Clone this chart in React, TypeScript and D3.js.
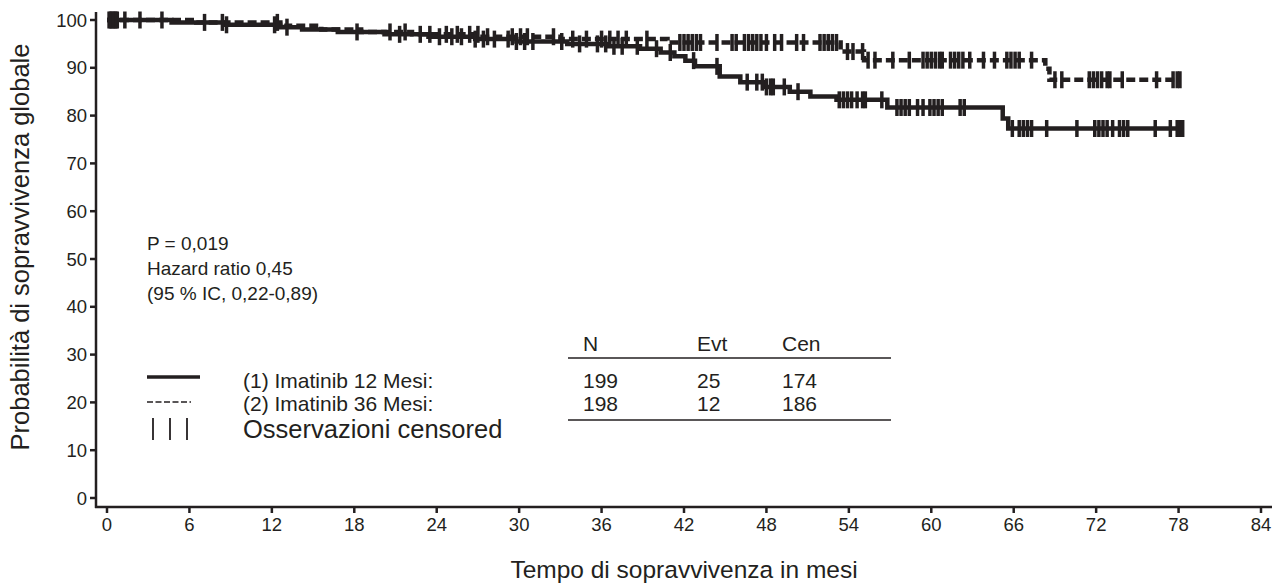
import React from "react";
import * as d3 from "d3";

// ---- data ----
const xTicks = [0, 6, 12, 18, 24, 30, 36, 42, 48, 54, 60, 66, 72, 78, 84];
const yTicks = [0, 10, 20, 30, 40, 50, 60, 70, 80, 90, 100];

// Kaplan-Meier steps [months, survival %]
const steps12: [number, number][] = [
  [0, 100], [4.7, 99.5], [8.5, 99], [12.6, 98.5], [14.2, 98], [16.8, 97.5], [20.2, 97],
  [23.4, 96.5], [26.8, 96], [29.8, 95.5], [33.5, 95], [36.4, 94.5], [38.8, 94],
  [40.3, 93.2], [41.3, 92.4], [42.1, 91.5], [42.8, 90.3], [44.6, 88.2], [46.1, 87.0],
  [47.8, 86.0], [49.7, 85.0], [51.2, 84.0], [53.1, 83.3], [56.8, 81.7], [65.2, 79.4], [65.6, 77.3],
];
const end12 = 78.3;
const steps36: [number, number][] = [
  [0, 100], [6.5, 99.5], [12.9, 98.8], [15.6, 98], [18.5, 97.5], [22.2, 97], [27.1, 96.5],
  [33, 96], [40.8, 95.3], [53.4, 93.4], [55.1, 91.6], [68.3, 89.8], [68.6, 87.5],
];
const end36 = 78.1;

const censor12 = [
  0.15, 0.35, 0.55, 0.75, 2.4, 7.1, 8.7, 12.2, 13.1, 18.2, 21.3, 22.8, 24.2, 25.1, 25.8, 26.8,
  27.4, 28.2, 29.2, 29.8, 30.4, 31.0, 33.1, 34.4, 35.7, 36.3, 36.9, 37.5, 38.6, 40.0, 41.0,
  42.7, 44.4, 46.6, 47.3, 47.7, 48.0, 48.3, 48.5, 49.3, 50.3, 53.3, 53.6, 53.9, 54.2, 54.6,
  55.0, 55.2, 56.4, 57.5, 57.8, 58.1, 58.4, 59.0, 59.4, 59.9, 60.2, 60.5, 60.8, 62.1, 62.4,
  65.9, 66.4, 66.7, 67.0, 67.3, 68.4, 70.6, 71.9, 72.2, 72.5, 72.8, 73.2, 73.7, 74.0, 74.3,
  76.3, 77.4, 77.9, 78.1, 78.3,
];
const censor36 = [
  0.25, 0.45, 0.65, 1.3, 4.0, 8.4, 12.4, 20.6, 21.7, 23.5, 24.7, 25.5, 26.4, 27.0, 27.7, 29.5,
  30.1, 30.6, 32.5, 33.9, 34.9, 36.0, 36.6, 37.2, 37.8, 39.3, 41.7, 42.0, 42.3, 42.6, 42.9,
  43.2, 44.4, 45.5, 45.8, 46.4, 46.7, 47.0, 47.3, 47.6, 48.0, 48.6, 49.1, 50.2, 50.7, 51.9,
  52.2, 52.5, 52.8, 53.1, 53.9, 54.3, 55.0, 55.4, 55.9, 57.2, 58.4, 59.4, 59.7, 60.0, 60.3,
  60.6, 60.8, 61.4, 61.7, 62.0, 62.3, 62.8, 63.8, 64.6, 65.5, 65.8, 66.1, 66.4, 67.3, 69.0,
  69.5, 71.5, 71.8, 72.1, 72.4, 72.8, 73.0, 73.9, 76.4, 77.6, 77.9, 78.1,
];

const annotation = ["P = 0,019", "Hazard ratio 0,45", "(95 % IC, 0,22-0,89)"];
const tableHeader = ["N", "Evt", "Cen"];
const tableRows = [
  { label: "(1) Imatinib 12 Mesi:", values: ["199", "25", "174"] },
  { label: "(2) Imatinib 36 Mesi:", values: ["198", "12", "186"] },
];

const INK = "#231f20";
const FONT = "'Liberation Sans', Arial, sans-serif";

function survAt(steps: [number, number][], t: number) {
  let s = steps[0][1];
  for (const [tt, v] of steps) if (tt <= t) s = v;
  return s;
}

export default function App() {
  const x = d3.scaleLinear().domain([0, 84]).range([107, 1261]);
  const y = d3.scaleLinear().domain([0, 100]).range([498, 20]);
  const line = d3
    .line<[number, number]>()
    .x((d) => x(d[0]))
    .y((d) => y(d[1]))
    .curve(d3.curveStepAfter);
  const full12 = [...steps12, [end12, steps12[steps12.length - 1][1]] as [number, number]];
  const full36 = [...steps36, [end36, steps36[steps36.length - 1][1]] as [number, number]];

  const colX = [583, 697, 782];

  const mark = (t: number, s: number, k: string) => (
    <line key={k} x1={x(t)} x2={x(t)} y1={y(s) - 8.5} y2={y(s) + 8.5} stroke={INK} strokeWidth={3.5} />
  );

  return (
    <svg
      width={1274}
      height={583}
      style={{ position: "absolute", left: 0, top: 0, background: "#fff" }}
      fontFamily={FONT}
    >
      {/* axes */}
      <line x1={96} y1={12} x2={96} y2={508} stroke={INK} strokeWidth={2.5} />
      <line x1={95} y1={507} x2={1272} y2={507} stroke={INK} strokeWidth={2.5} />
      {yTicks.map((t) => (
        <g key={"y" + t}>
          <line x1={90} x2={96} y1={y(t)} y2={y(t)} stroke={INK} strokeWidth={2.5} />
          <text x={87} y={y(t)} dy="0.36em" textAnchor="end" fontSize={18.5} fill={INK}>
            {t}
          </text>
        </g>
      ))}
      {xTicks.map((t) => (
        <g key={"x" + t}>
          <line x1={x(t)} x2={x(t)} y1={507} y2={513} stroke={INK} strokeWidth={2.5} />
          <text x={x(t)} y={531} textAnchor="middle" fontSize={18.5} fill={INK}>
            {t}
          </text>
        </g>
      ))}
      <text
        transform="translate(29,247) rotate(-90)"
        textAnchor="middle"
        fontSize={25.5}
        fill={INK}
      >
        Probabilità di sopravvivenza globale
      </text>
      <text x={684} y={578} textAnchor="middle" fontSize={24.5} fill={INK}>
        Tempo di sopravvivenza in mesi
      </text>

      {/* curves */}
      <path d={line(full36) || ""} fill="none" stroke={INK} strokeWidth={4.5} strokeDasharray="9,4" />
      <path d={line(full12) || ""} fill="none" stroke={INK} strokeWidth={4.5} />
      {censor12.map((t, i) => mark(t, survAt(steps12, t), "c1" + i))}
      {censor36.map((t, i) => mark(t, survAt(steps36, t), "c2" + i))}

      {/* annotation */}
      {annotation.map((s, i) => (
        <text key={"a" + i} x={147} y={250 + i * 25} fontSize={19} fill={INK}>
          {s}
        </text>
      ))}

      {/* legend table */}
      {tableHeader.map((h, i) => (
        <text key={"h" + i} x={colX[i]} y={351} fontSize={21} fill={INK}>
          {h}
        </text>
      ))}
      <line x1={568} x2={891} y1={358} y2={358} stroke={INK} strokeWidth={1.6} />
      {tableRows.map((r, ri) => (
        <g key={"r" + ri}>
          <text x={243} y={388 + ri * 23} fontSize={21} fill={INK}>
            {r.label}
          </text>
          {r.values.map((v, vi) => (
            <text key={vi} x={colX[vi]} y={388 + ri * 23} fontSize={21} fill={INK}>
              {v}
            </text>
          ))}
        </g>
      ))}
      <line x1={568} x2={891} y1={420} y2={420} stroke={INK} strokeWidth={1.6} />
      <text x={243} y={438} fontSize={25.5} fill={INK}>
        Osservazioni censored
      </text>
      <line x1={147} x2={200} y1={377} y2={377} stroke={INK} strokeWidth={3.5} />
      <line x1={147} x2={191} y1={402} y2={402} stroke={INK} strokeWidth={1.5} strokeDasharray="6,2.5" />
      {[153, 170, 187].map((xx) => (
        <line key={xx} x1={xx} x2={xx} y1={418} y2={440} stroke={INK} strokeWidth={1.8} />
      ))}
    </svg>
  );
}
